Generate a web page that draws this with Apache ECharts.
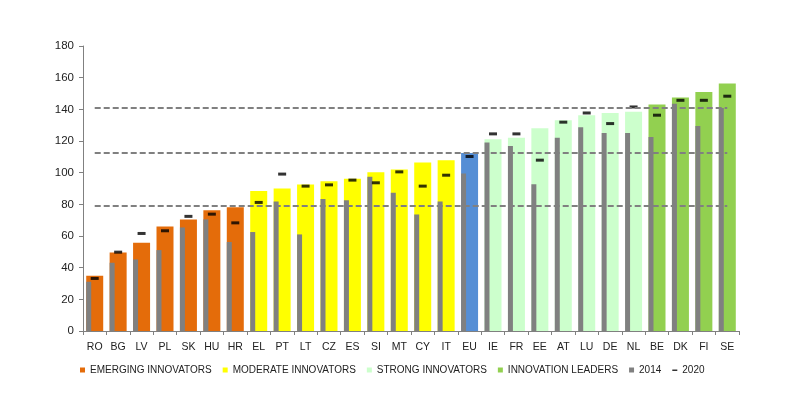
<!DOCTYPE html>
<html><head><meta charset="utf-8">
<script src="https://cdn.jsdelivr.net/npm/echarts@6/dist/echarts.min.js"></script>
<style>html,body{margin:0;padding:0;background:#fff}#c{width:794px;height:399px}</style>
</head><body><div id="c"></div>
<script>
const categories = ['RO','BG','LV','PL','SK','HU','HR','EL','PT','LT','CZ','ES','SI','MT','CY','IT','EU','IE','FR','EE','AT','LU','DE','NL','BE','DK','FI','SE'];
const groupOf =    ['E','E','E','E','E','E','E','M','M','M','M','M','M','M','M','M','EU','S','S','S','S','S','S','S','L','L','L','L'];
const score2021 = [34.9,49.6,55.7,66.0,70.5,76.3,78.2,88.5,90.0,92.5,94.6,96.1,100.3,102.0,106.4,107.9,112.5,121.1,122.0,128.1,133.1,136.3,137.7,138.4,143.0,147.4,151.0,156.3];
const score2014 = [31.1,43.1,45.2,51.1,65.4,70.5,56.2,62.5,81.8,61.0,83.3,82.6,97.4,87.3,73.6,81.8,99.5,119.1,116.9,92.7,122.0,128.7,125.1,125.1,122.6,143.6,129.5,140.9];
const score2020 = [33.2,49.8,61.6,63.3,72.4,73.8,68.3,81.2,99.1,91.5,92.3,95.3,93.6,100.5,91.5,98.4,110.2,124.5,124.5,107.9,131.9,137.7,131.0,141.5,136.3,145.7,145.7,148.3];
const thresholds = [79, 112.4, 140.7];
const yTicks = [0,20,40,60,80,100,120,140,160,180];
const groups = [
  {key:'E', name:'EMERGING INNOVATORS', color:'#E46C0A'},
  {key:'M', name:'MODERATE INNOVATORS', color:'#FFFF00'},
  {key:'S', name:'STRONG INNOVATORS', color:'#CCFFCC'},
  {key:'L', name:'INNOVATION LEADERS', color:'#92D050'},
  {key:'EU', name:'EU', color:'#558ED5'}
];

const font = 'Liberation Sans, Arial, sans-serif';
const chart = echarts.init(document.getElementById('c'), null, {renderer:'canvas'});

const series = [];
series.push({
  name:'2014', type:'bar', data:score2014, barWidth:5, barGap:'-100%', z:3,
  itemStyle:{color:'#808080'}, silent:true
});
groups.forEach(g => {
  series.push({
    name:g.name, type:'bar', barWidth:17, barGap:'-100%', z:2,
    itemStyle:{color:g.color}, silent:true,
    data: score2021.map((v,i) => groupOf[i]===g.key ? v : '-')
  });
});
series.push({
  name:'2020', type:'scatter', data:score2020, symbol:'rect', symbolSize:[8,3], z:4,
  itemStyle:{color:'#000'}, silent:true,
  markLine:{
    silent:true, symbol:['none','none'], label:{show:false},
    lineStyle:{color:'#808080', width:2, type:[6,3]},
    data: thresholds.map(t => [{coord:[categories[0], t]}, {coord:[categories[categories.length-1], t]}])
  }
});

chart.setOption({
  animation:false,
  backgroundColor:'#fff',
  grid:{left:83, right:55, top:46, bottom:68, containLabel:false},
  legend:{
    bottom:19, left:75, itemWidth:5, itemHeight:5, itemGap:11,
    textStyle:{fontFamily:font, fontSize:10, color:'#222'},
    data:[
      {name:'EMERGING INNOVATORS', icon:'rect'},
      {name:'MODERATE INNOVATORS', icon:'rect'},
      {name:'STRONG INNOVATORS', icon:'rect'},
      {name:'INNOVATION LEADERS', icon:'rect'},
      {name:'2014', icon:'rect'},
      {name:'2020', icon:'path://M0,0L0.01,0M0,3H8V5.5H0ZM0,8L0.01,8'}
    ]
  },
  xAxis:{
    type:'category', data:categories,
    axisLine:{lineStyle:{color:'#808080', width:1}},
    axisTick:{show:true, length:4, lineStyle:{color:'#808080'}},
    axisLabel:{fontFamily:font, fontSize:10.5, color:'#222', margin:11, interval:0}
  },
  yAxis:{
    type:'value', min:0, max:180, interval:20,
    axisLine:{show:true, lineStyle:{color:'#808080', width:1}},
    axisTick:{show:true, length:4, lineStyle:{color:'#808080'}},
    splitLine:{show:false},
    axisLabel:{fontFamily:font, fontSize:11.5, color:'#222', margin:9,
      formatter: v => yTicks.includes(v) ? String(v) : ''}
  },
  series
});
</script></body></html>
